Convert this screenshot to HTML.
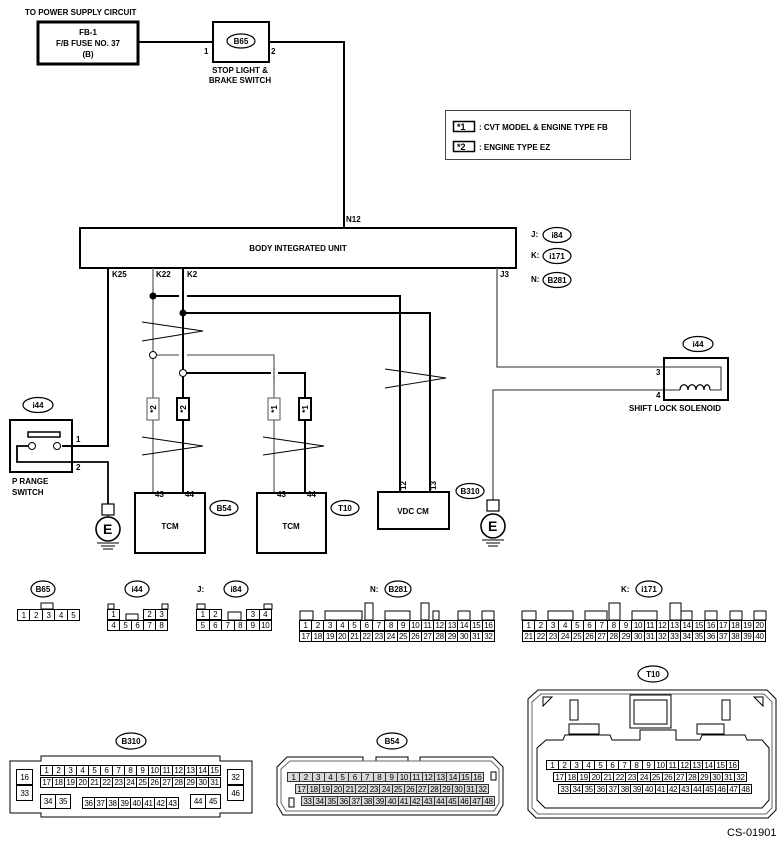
<!DOCTYPE html>
<html><head><meta charset="utf-8"><style>
body{margin:0;background:#fff;}
#w{position:relative;width:784px;height:848px;overflow:hidden;font-family:"Liberation Sans",sans-serif;}
svg{position:absolute;left:0;top:0}
.r{position:absolute;display:flex;}
.r i{font-style:normal;flex:1;box-sizing:border-box;border:1px solid #000;margin-left:-1px;text-align:center;font-size:8px;display:flex;align-items:center;justify-content:center;background:#fff;letter-spacing:-0.3px}
.g i{background:#d8d8d8;border-color:#333}
.cs{position:absolute;left:727px;top:827px;font-size:11px;}
</style></head><body><div id="w">
<svg width="784" height="848" viewBox="0 0 784 848" font-family="Liberation Sans, sans-serif" font-weight="bold" font-size="8">
<g fill="none" stroke="#000">
<!-- fuse -->
<rect x="38" y="22" width="100" height="42" stroke-width="3"/>
<line x1="138" y1="42" x2="213" y2="42" stroke-width="2"/>
<rect x="213" y="22" width="56" height="40" stroke-width="2"/>
<polyline points="269,42 344,42 344,228" stroke-width="2"/>
<!-- legend -->
<rect x="445.5" y="110.5" width="185" height="49" stroke="#444"/>
<rect x="453.5" y="121.5" width="21" height="10" stroke-width="1.5"/>
<rect x="453.5" y="141.5" width="21" height="10" stroke-width="1.5"/>
<!-- BIU -->
<rect x="80" y="228" width="436" height="40" stroke-width="2"/>
<!-- K25 -->
<polyline points="108,268 108,446 62,446" stroke-width="2"/>
<!-- K22 thin -->
<line x1="153" y1="268" x2="153" y2="493" stroke="#666" stroke-width="1.3"/>
<!-- K2 thick -->
<line x1="183" y1="268" x2="183" y2="493" stroke-width="2"/>
<polyline points="153,296 400,296 400,492" stroke-width="2"/>
<polyline points="183,313 430,313 430,492" stroke-width="2"/>
<polyline points="153,355 274,355 274,493" stroke="#666" stroke-width="1.3"/>
<polyline points="183,373 305,373 305,493" stroke-width="2"/>
</g>
<!-- gaps -->
<rect x="179" y="293" width="8" height="6" fill="#fff"/>
<rect x="179" y="352" width="8" height="6" fill="#fff"/>
<rect x="271" y="370" width="7" height="6" fill="#fff"/>
<line x1="183" y1="290" x2="183" y2="300" stroke="#000" stroke-width="2"/>
<line x1="183" y1="350" x2="183" y2="360" stroke="#000" stroke-width="2"/>
<line x1="274" y1="368" x2="274" y2="378" stroke="#666" stroke-width="1.3"/>
<circle cx="153" cy="296" r="3.5" fill="#000"/>
<circle cx="183" cy="313" r="3.5" fill="#000"/>
<circle cx="153" cy="355" r="3.5" fill="#fff" stroke="#000"/>
<circle cx="183" cy="373" r="3.5" fill="#fff" stroke="#000"/>
<!-- zigzags -->
<g fill="none" stroke="#000" stroke-width="0.9">
<polyline points="142,322 203,331 142,341"/>
<polyline points="142,437 203,446 142,455"/>
<polyline points="263,437 324,446 263,455"/>
<polyline points="385,369 446,378 385,388"/>
</g>
<!-- star boxes -->
<g fill="#fff" stroke="#000">
<rect x="147" y="398" width="12" height="22" stroke="#555"/>
<rect x="177" y="398" width="12" height="22" stroke-width="2"/>
<rect x="268" y="398" width="12" height="22" stroke="#555"/>
<rect x="299" y="398" width="12" height="22" stroke-width="2"/>
</g>
<g font-size="8">
<text transform="translate(156,409) rotate(-90)" text-anchor="middle">*2</text>
<text transform="translate(186,409) rotate(-90)" text-anchor="middle">*2</text>
<text transform="translate(277,409) rotate(-90)" text-anchor="middle">*1</text>
<text transform="translate(308,409) rotate(-90)" text-anchor="middle">*1</text>
</g>
<!-- TCMs, VDC -->
<g fill="none" stroke="#000" stroke-width="2">
<rect x="135" y="493" width="70" height="60"/>
<rect x="257" y="493" width="69" height="60"/>
<rect x="378" y="492" width="71" height="37"/>
</g>
<!-- J3 / solenoid -->
<g fill="none">
<polyline points="497,268 497,367 721,367 721,390 710,390" stroke="#555" stroke-width="1.3"/>
<polyline points="493,500 493,390 680,390" stroke="#555" stroke-width="1.3"/>
<rect x="664" y="358" width="64" height="42" stroke="#000" stroke-width="2"/>
<path d="M680,390 C680,383 688,383 688,390 C688,383 696,383 696,390 C696,383 704,383 704,390 C704,383 710,383 710,390" stroke="#000" stroke-width="1.2"/>
</g>
<!-- P range switch -->
<g fill="none" stroke="#000">
<rect x="10" y="420" width="62" height="52" stroke-width="2"/>
<rect x="28" y="432" width="32" height="5" stroke-width="1.5"/>
<polyline points="28,446 17,446 17,462 108,462 108,504" stroke-width="1.8"/>
<circle cx="32" cy="446" r="3.5" fill="#fff"/>
<circle cx="57" cy="446" r="3.5" fill="#fff"/>
<!-- grounds -->
<rect x="102" y="504" width="12" height="11" stroke-width="1.2"/>
<circle cx="108" cy="529" r="12" stroke-width="1.6"/>
<line x1="108" y1="515" x2="108" y2="517"/>
<line x1="97" y1="543" x2="119" y2="543"/>
<line x1="101" y1="546" x2="115" y2="546"/>
<line x1="103" y1="549" x2="113" y2="549"/>
<rect x="487" y="500" width="12" height="11" stroke-width="1.2"/>
<circle cx="493" cy="526" r="12" stroke-width="1.6"/>
<line x1="482" y1="540" x2="504" y2="540"/>
<line x1="486" y1="543" x2="500" y2="543"/>
<line x1="488" y1="546" x2="498" y2="546"/>
</g>
<text x="103" y="534" font-size="14">E</text>
<text x="488" y="531" font-size="14">E</text>
<!-- ovals -->
<g fill="#fff" stroke="#000" stroke-width="1.2">
<ellipse cx="241" cy="41" rx="14" ry="7"/>
<ellipse cx="557" cy="235" rx="14" ry="7.5"/>
<ellipse cx="557" cy="256" rx="14" ry="7.5"/>
<ellipse cx="557" cy="280" rx="14" ry="7.5"/>
<ellipse cx="698" cy="344" rx="15" ry="7.5"/>
<ellipse cx="38" cy="405" rx="15" ry="7.5"/>
<ellipse cx="224" cy="508" rx="14" ry="7.5"/>
<ellipse cx="345" cy="508" rx="14" ry="7.5"/>
<ellipse cx="470" cy="491" rx="14" ry="7.5"/>
<ellipse cx="43" cy="589" rx="12" ry="8"/>
<ellipse cx="137" cy="589" rx="12" ry="8"/>
<ellipse cx="236" cy="589" rx="12" ry="8"/>
<ellipse cx="398" cy="589" rx="13" ry="8"/>
<ellipse cx="649" cy="589" rx="13" ry="8"/>
<ellipse cx="131" cy="741" rx="15" ry="8"/>
<ellipse cx="392" cy="741" rx="15" ry="8"/>
<ellipse cx="653" cy="674" rx="15" ry="8"/>
</g>
<g text-anchor="middle">
<text x="241" y="44">B65</text>
<text x="557" y="238">i84</text>
<text x="557" y="259">i171</text>
<text x="557" y="283">B281</text>
<text x="698" y="347">i44</text>
<text x="38" y="408">i44</text>
<text x="224" y="511">B54</text>
<text x="345" y="511">T10</text>
<text x="470" y="494">B310</text>
<text x="43" y="592">B65</text>
<text x="137" y="592">i44</text>
<text x="236" y="592">i84</text>
<text x="398" y="592">B281</text>
<text x="649" y="592">i171</text>
<text x="131" y="744">B310</text>
<text x="392" y="744">B54</text>
<text x="653" y="677">T10</text>
<text x="88" y="35">FB-1</text>
<text x="88" y="46">F/B FUSE NO. 37</text>
<text x="88" y="57">(B)</text>
<text x="240" y="73">STOP LIGHT &amp;</text>
<text x="240" y="83">BRAKE SWITCH</text>
<text x="298" y="251">BODY INTEGRATED UNIT</text>
<text x="170" y="529">TCM</text>
<text x="291" y="529">TCM</text>
<text x="413" y="514">VDC CM</text>
<text x="675" y="411">SHIFT LOCK SOLENOID</text>
</g>
<text x="25" y="15">TO POWER SUPPLY CIRCUIT</text>
<text x="204" y="54">1</text>
<text x="271" y="54">2</text>
<text x="346" y="222">N12</text>
<text x="112" y="277">K25</text>
<text x="156" y="277">K22</text>
<text x="187" y="277">K2</text>
<text x="500" y="277">J3</text>
<text x="531" y="237">J:</text>
<text x="531" y="258">K:</text>
<text x="531" y="282">N:</text>
<text x="457" y="130" font-size="9">*1</text>
<text x="457" y="150" font-size="9">*2</text>
<text x="479" y="130">: CVT MODEL &amp; ENGINE TYPE FB</text>
<text x="479" y="150">: ENGINE TYPE EZ</text>
<text x="656" y="375">3</text>
<text x="656" y="398">4</text>
<text x="76" y="442">1</text>
<text x="76" y="470">2</text>
<text x="12" y="484">P RANGE</text>
<text x="12" y="495">SWITCH</text>
<text x="155" y="497">43</text>
<text x="185" y="497">44</text>
<text x="277" y="497">43</text>
<text x="307" y="497">44</text>
<text transform="translate(406,490) rotate(-90)">12</text>
<text transform="translate(436,490) rotate(-90)">13</text>
<text x="197" y="592">J:</text>
<text x="370" y="592">N:</text>
<text x="621" y="592">K:</text>
<!-- connector tabs -->
<g fill="#fff" stroke="#000">
<rect x="41" y="603" width="12" height="6"/>
<rect x="108" y="604" width="6" height="5"/><rect x="162" y="604" width="6" height="5"/>
<rect x="126" y="614" width="12" height="6"/>
<rect x="197" y="604" width="8" height="5"/><rect x="264" y="604" width="8" height="5"/>
<rect x="228" y="612" width="13" height="8"/>
<rect x="300" y="611" width="13" height="9"/><rect x="325" y="611" width="37" height="9"/>
<rect x="365" y="603" width="8" height="17"/><rect x="385" y="611" width="25" height="9"/>
<rect x="421" y="603" width="8" height="17"/><rect x="433" y="611" width="6" height="9"/>
<rect x="458" y="611" width="12" height="9"/><rect x="482" y="611" width="12" height="9"/>
<rect x="522" y="611" width="14" height="9"/><rect x="548" y="611" width="25" height="9"/>
<rect x="585" y="611" width="22" height="9"/><rect x="609" y="603" width="11" height="17"/>
<rect x="632" y="611" width="25" height="9"/><rect x="670" y="603" width="11" height="17"/>
<rect x="681" y="611" width="11" height="9"/><rect x="705" y="611" width="12" height="9"/>
<rect x="730" y="611" width="12" height="9"/><rect x="754" y="611" width="12" height="9"/>
</g>
<!-- B310 outline -->
<path d="M10,761 H41 V756 H220 V761 H252 V813 H220 V817 H41 V813 H10 Z" fill="none" stroke="#000"/>
<!-- B54 outline -->
<g fill="none" stroke="#000">
<path d="M287,757 H363 V761 H376 V757 H408 V761 H420 V757 H493 L503,767 V805 L497,815 H283 L277,805 V767 Z"/>
<path d="M290,761 H491 L499,769 V803 L494,811 H286 L281,803 V769 Z" stroke="#666"/>
<rect x="491" y="772" width="5" height="8"/><rect x="289" y="798" width="5" height="9"/>
</g>
<!-- T10 outline -->
<g fill="none" stroke="#000">
<path d="M538,690 H767 L776,699 V810 L768,818 H536 L528,810 V699 Z"/>
<path d="M541,694 H764 L772,702 V808 L766,814 H538 L532,808 V702 Z" stroke="#666"/>
<path d="M537,748 L546,740 H563 L565,735 H610 L612,740 H640 V730 H676 V740 H700 L702,735 H745 L747,740 H762 L769,748 V800 L762,808 H545 L537,800 Z"/>
<path d="M630,695 H671 V728 H630 Z M634,700 H667 V724 H634 Z"/>
<rect x="569" y="724" width="30" height="10"/><rect x="697" y="724" width="27" height="10"/>
<rect x="570" y="700" width="8" height="20"/><rect x="722" y="700" width="8" height="20"/>
<path d="M543,697 L552,697 L543,706 Z M763,697 L754,697 L763,706 Z"/>
</g>
</svg>
<!-- connector grids -->
<div class="r" style="left:18px;top:609px;width:62px;height:12px"><i>1</i><i>2</i><i>3</i><i>4</i><i>5</i></div>
<div class="r" style="left:108px;top:609px;width:12px;height:11px"><i>1</i></div>
<div class="r" style="left:144px;top:609px;width:24px;height:11px"><i>2</i><i>3</i></div>
<div class="r" style="left:108px;top:620px;width:60px;height:11px"><i>4</i><i>5</i><i>6</i><i>7</i><i>8</i></div>
<div class="r" style="left:197px;top:609px;width:25px;height:11px"><i>1</i><i>2</i></div>
<div class="r" style="left:247px;top:609px;width:25px;height:11px"><i>3</i><i>4</i></div>
<div class="r" style="left:197px;top:620px;width:75px;height:11px"><i>5</i><i>6</i><i>7</i><i>8</i><i>9</i><i>10</i></div>
<div class="r" style="left:300px;top:620px;width:195px;height:11px"><i>1</i><i>2</i><i>3</i><i>4</i><i>5</i><i>6</i><i>7</i><i>8</i><i>9</i><i>10</i><i>11</i><i>12</i><i>13</i><i>14</i><i>15</i><i>16</i></div>
<div class="r" style="left:300px;top:631px;width:195px;height:11px"><i>17</i><i>18</i><i>19</i><i>20</i><i>21</i><i>22</i><i>23</i><i>24</i><i>25</i><i>26</i><i>27</i><i>28</i><i>29</i><i>30</i><i>31</i><i>32</i></div>
<div class="r" style="left:523px;top:620px;width:243px;height:11px"><i>1</i><i>2</i><i>3</i><i>4</i><i>5</i><i>6</i><i>7</i><i>8</i><i>9</i><i>10</i><i>11</i><i>12</i><i>13</i><i>14</i><i>15</i><i>16</i><i>17</i><i>18</i><i>19</i><i>20</i></div>
<div class="r" style="left:523px;top:631px;width:243px;height:11px"><i>21</i><i>22</i><i>23</i><i>24</i><i>25</i><i>26</i><i>27</i><i>28</i><i>29</i><i>30</i><i>31</i><i>32</i><i>33</i><i>34</i><i>35</i><i>36</i><i>37</i><i>38</i><i>39</i><i>40</i></div>
<!-- B310 -->
<div class="r" style="left:41px;top:765px;width:180px;height:11px"><i>1</i><i>2</i><i>3</i><i>4</i><i>5</i><i>6</i><i>7</i><i>8</i><i>9</i><i>10</i><i>11</i><i>12</i><i>13</i><i>14</i><i>15</i></div>
<div class="r" style="left:41px;top:777px;width:180px;height:11px"><i>17</i><i>18</i><i>19</i><i>20</i><i>21</i><i>22</i><i>23</i><i>24</i><i>25</i><i>26</i><i>27</i><i>28</i><i>29</i><i>30</i><i>31</i></div>
<div class="r" style="left:17px;top:769px;width:16px;height:16px"><i>16</i></div>
<div class="r" style="left:17px;top:785px;width:16px;height:16px"><i>33</i></div>
<div class="r" style="left:228px;top:769px;width:16px;height:16px"><i>32</i></div>
<div class="r" style="left:228px;top:785px;width:16px;height:16px"><i>46</i></div>
<div class="r" style="left:41px;top:794px;width:30px;height:15px"><i>34</i><i>35</i></div>
<div class="r" style="left:83px;top:797px;width:96px;height:12px"><i>36</i><i>37</i><i>38</i><i>39</i><i>40</i><i>41</i><i>42</i><i>43</i></div>
<div class="r" style="left:191px;top:794px;width:30px;height:15px"><i>44</i><i>45</i></div>
<!-- B54 -->
<div class="r g" style="left:288px;top:772px;width:196px;height:10px"><i>1</i><i>2</i><i>3</i><i>4</i><i>5</i><i>6</i><i>7</i><i>8</i><i>9</i><i>10</i><i>11</i><i>12</i><i>13</i><i>14</i><i>15</i><i>16</i></div>
<div class="r g" style="left:296px;top:784px;width:193px;height:10px"><i>17</i><i>18</i><i>19</i><i>20</i><i>21</i><i>22</i><i>23</i><i>24</i><i>25</i><i>26</i><i>27</i><i>28</i><i>29</i><i>30</i><i>31</i><i>32</i></div>
<div class="r g" style="left:302px;top:796px;width:193px;height:10px"><i>33</i><i>34</i><i>35</i><i>36</i><i>37</i><i>38</i><i>39</i><i>40</i><i>41</i><i>42</i><i>43</i><i>44</i><i>45</i><i>46</i><i>47</i><i>48</i></div>
<!-- T10 -->
<div class="r" style="left:547px;top:760px;width:192px;height:10px"><i>1</i><i>2</i><i>3</i><i>4</i><i>5</i><i>6</i><i>7</i><i>8</i><i>9</i><i>10</i><i>11</i><i>12</i><i>13</i><i>14</i><i>15</i><i>16</i></div>
<div class="r" style="left:554px;top:772px;width:193px;height:10px"><i>17</i><i>18</i><i>19</i><i>20</i><i>21</i><i>22</i><i>23</i><i>24</i><i>25</i><i>26</i><i>27</i><i>28</i><i>29</i><i>30</i><i>31</i><i>32</i></div>
<div class="r" style="left:559px;top:784px;width:193px;height:10px"><i>33</i><i>34</i><i>35</i><i>36</i><i>37</i><i>38</i><i>39</i><i>40</i><i>41</i><i>42</i><i>43</i><i>44</i><i>45</i><i>46</i><i>47</i><i>48</i></div>
<div class="cs">CS-01901</div>
</div></body></html>
